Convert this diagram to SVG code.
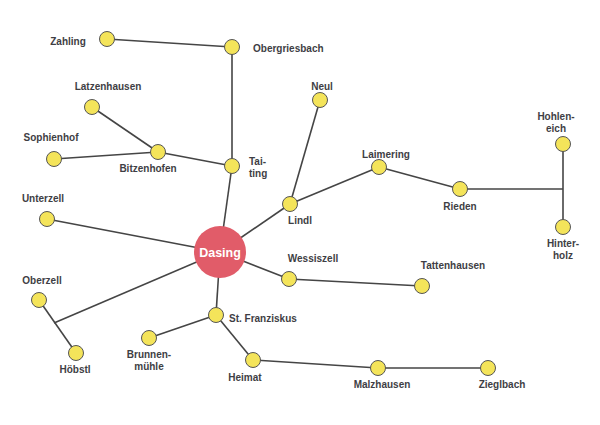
<svg xmlns="http://www.w3.org/2000/svg" width="600" height="425" viewBox="0 0 600 425">
<style>
.e{stroke:#454545;stroke-width:1.6;fill:none}
.n{fill:#f4e45a;stroke:#555;stroke-width:1}
.t{font-family:"Liberation Sans",Arial,sans-serif;font-weight:bold;font-size:10px;fill:#3e3e44}
.m{text-anchor:middle}
</style>
<rect width="600" height="425" fill="#fff"/>
<g id="connectors">
<line class="e" x1="107" y1="39" x2="232" y2="47"/>
<line class="e" x1="232" y1="47" x2="232" y2="166"/>
<line class="e" x1="92" y1="107" x2="158" y2="152"/>
<line class="e" x1="54" y1="159" x2="158" y2="152"/>
<line class="e" x1="158" y1="152" x2="232" y2="166"/>
<line class="e" x1="232" y1="166" x2="220" y2="252"/>
<line class="e" x1="220" y1="252" x2="290" y2="204"/>
<line class="e" x1="290" y1="204" x2="320" y2="100"/>
<line class="e" x1="290" y1="204" x2="379" y2="167"/>
<line class="e" x1="379" y1="167" x2="460" y2="189"/>
<line class="e" x1="460" y1="189" x2="563" y2="189"/>
<line class="e" x1="563" y1="144" x2="563" y2="227"/>
<line class="e" x1="47" y1="219" x2="220" y2="252"/>
<line class="e" x1="220" y1="252" x2="54" y2="323"/>
<line class="e" x1="39" y1="300" x2="76" y2="353"/>
<line class="e" x1="220" y1="252" x2="289" y2="279"/>
<line class="e" x1="289" y1="279" x2="422" y2="286"/>
<line class="e" x1="220" y1="252" x2="216" y2="315"/>
<line class="e" x1="216" y1="315" x2="149" y2="338"/>
<line class="e" x1="216" y1="315" x2="253" y2="360"/>
<line class="e" x1="253" y1="360" x2="378" y2="368"/>
<line class="e" x1="378" y1="368" x2="488" y2="368"/>
</g>
<g id="dasing"><circle cx="220" cy="252" r="26" fill="#e15c69"/><text x="220" y="256.5" class="m" font-family="Liberation Sans,Arial,sans-serif" font-weight="bold" font-size="12.5" fill="#fff">Dasing</text></g>
<g id="zahling"><circle class="n" cx="107" cy="39" r="7.5"/><text class="t m" x="68" y="45">Zahling</text></g>
<g id="obergriesbach"><circle class="n" cx="232" cy="47" r="7.5"/><text class="t" x="253" y="52">Obergriesbach</text></g>
<g id="latzenhausen"><circle class="n" cx="92" cy="107" r="7.5"/><text class="t m" x="108" y="90">Latzenhausen</text></g>
<g id="sophienhof"><circle class="n" cx="54" cy="159" r="7.5"/><text class="t m" x="51" y="141">Sophienhof</text></g>
<g id="bitzenhofen"><circle class="n" cx="158" cy="152" r="7.5"/><text class="t m" x="148" y="172">Bitzenhofen</text></g>
<g id="taiting"><circle class="n" cx="232" cy="166" r="7.5"/><text class="t" x="249" y="165">Tai-</text><text class="t" x="249" y="177">ting</text></g>
<g id="neul"><circle class="n" cx="320" cy="100" r="7.5"/><text class="t m" x="322" y="90">Neul</text></g>
<g id="lindl"><circle class="n" cx="290" cy="204" r="7.5"/><text class="t m" x="300" y="224">Lindl</text></g>
<g id="laimering"><circle class="n" cx="379" cy="167" r="7.5"/><text class="t m" x="386" y="158">Laimering</text></g>
<g id="rieden"><circle class="n" cx="460" cy="189" r="7.5"/><text class="t m" x="460" y="210">Rieden</text></g>
<g id="hohleneich"><circle class="n" cx="563" cy="144" r="7.5"/><text class="t m" x="556" y="120">Hohlen-</text><text class="t m" x="556" y="132">eich</text></g>
<g id="hinterholz"><circle class="n" cx="563" cy="227" r="7.5"/><text class="t m" x="563" y="247">Hinter-</text><text class="t m" x="563" y="259">holz</text></g>
<g id="unterzell"><circle class="n" cx="47" cy="219" r="7.5"/><text class="t m" x="43" y="202">Unterzell</text></g>
<g id="oberzell"><circle class="n" cx="39" cy="300" r="7.5"/><text class="t m" x="42" y="284">Oberzell</text></g>
<g id="hoebstl"><circle class="n" cx="76" cy="353" r="7.5"/><text class="t m" x="75" y="373">Höbstl</text></g>
<g id="wessiszell"><circle class="n" cx="289" cy="279" r="7.5"/><text class="t m" x="313" y="262">Wessiszell</text></g>
<g id="tattenhausen"><circle class="n" cx="422" cy="286" r="7.5"/><text class="t m" x="453" y="269">Tattenhausen</text></g>
<g id="stfranziskus"><circle class="n" cx="216" cy="315" r="7.5"/><text class="t" x="229" y="322">St. Franziskus</text></g>
<g id="brunnenmuehle"><circle class="n" cx="149" cy="338" r="7.5"/><text class="t m" x="149" y="358">Brunnen-</text><text class="t m" x="149" y="370">mühle</text></g>
<g id="heimat"><circle class="n" cx="253" cy="360" r="7.5"/><text class="t m" x="245" y="381">Heimat</text></g>
<g id="malzhausen"><circle class="n" cx="378" cy="368" r="7.5"/><text class="t m" x="382" y="388">Malzhausen</text></g>
<g id="zieglbach"><circle class="n" cx="488" cy="368" r="7.5"/><text class="t m" x="502" y="388">Zieglbach</text></g>
</svg>
